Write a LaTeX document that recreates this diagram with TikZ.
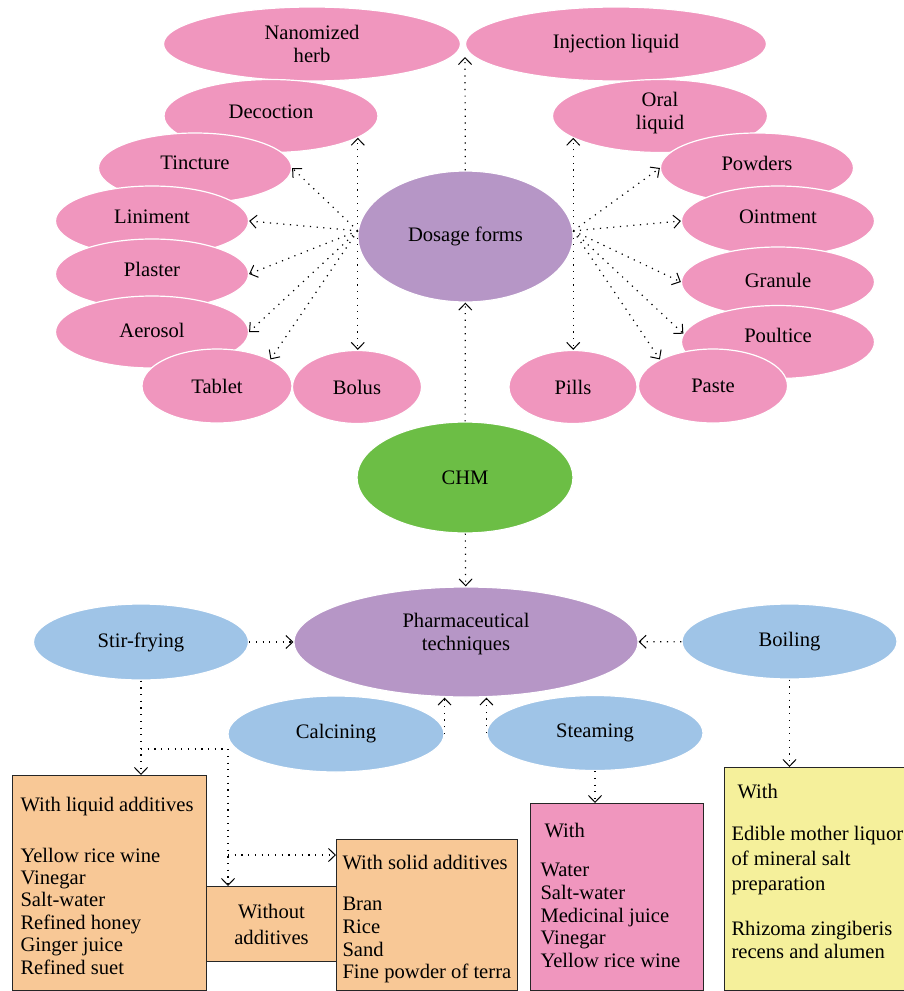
\documentclass[tikz,border=0pt]{standalone}
\usepackage{fontspec}
\setmainfont{Liberation Serif}
\usetikzlibrary{arrows.meta,shapes}
\definecolor{formpink}{RGB}{240,150,190}
\definecolor{hubpurple}{RGB}{182,150,198}
\definecolor{chmgreen}{RGB}{108,190,69}
\definecolor{techblue}{RGB}{159,196,231}
\definecolor{boxorange}{RGB}{248,200,150}
\definecolor{boxyellow}{RGB}{245,240,155}
\tikzset{
    >={Straight Barb[length=3.4pt,width=6.5pt,line width=0.5pt]},
    every node/.style={font=\fontsize{10.3}{11.4}\selectfont},
    oval/.style={ellipse, draw=white, line width=0.6pt, inner sep=0pt, align=center},
    form/.style={oval, fill=formpink},
    hub/.style={oval, fill=hubpurple},
    root/.style={oval, fill=chmgreen},
    technique/.style={oval, fill=techblue},
    listbox/.style={rectangle, draw=black!85, line width=0.5pt, inner ysep=0pt, anchor=north west},
    link/.style={->, line width=0.6pt, dash pattern=on 0.6pt off 2.75pt},
}

\begin{document}
\begin{tikzpicture}[x=0.5pt,y=-0.5pt]
\useasboundingbox (0,0) rectangle (904,991);

\node[form, minimum width=148.5pt, minimum height=37pt] (nano) at (312,44) {Nanomized\\herb};
\node[form, minimum width=150.5pt, minimum height=37pt] (inj) at (616,44) {Injection liquid};
\node[form, minimum width=107pt, minimum height=36.5pt, text depth=4pt] (decoction) at (271,116) {Decoction};
\node[form, minimum width=107.5pt, minimum height=36.5pt, text depth=5.5pt] (oral) at (660,116) {Oral\\liquid};
\node[form, minimum width=96.5pt, minimum height=35pt, text depth=5pt] (tincture) at (195,168) {Tincture};
\node[form, minimum width=96.5pt, minimum height=35pt, text depth=5pt] (powders) at (757,168) {Powders};
\node[form, minimum width=96.5pt, minimum height=35pt, text depth=4pt] (liniment) at (152,221) {Liniment};
\node[form, minimum width=96.5pt, minimum height=35pt, text depth=4pt] (ointment) at (778,221) {Ointment};
\node[form, minimum width=96.5pt, minimum height=35pt, text depth=5pt] (plaster) at (152,274) {Plaster};
\node[form, minimum width=96.5pt, minimum height=35pt, text depth=2pt] (granule) at (778,282) {Granule};
\node[form, minimum width=96.5pt, minimum height=36pt, text depth=2pt] (aerosol) at (152,332) {Aerosol};
\node[form, minimum width=96.5pt, minimum height=36.5pt, text depth=7pt] (poultice) at (778,342) {Poultice};
\node[form, minimum width=75pt, minimum height=37pt] (tablet) at (217,386) {Tablet};
\node[form, minimum width=64.5pt, minimum height=36.5pt] (bolus) at (357,387) {Bolus};
\node[form, minimum width=64pt, minimum height=36.5pt] (pills) at (573,387) {Pills};
\node[form, minimum width=74.5pt, minimum height=37pt] (paste) at (713,386) {Paste};

\node[hub, minimum width=107.5pt, minimum height=65.5pt] (dosage) at (465.5,236.5) {Dosage forms};
\node[root, minimum width=108pt, minimum height=55.5pt] (chm) at (465,477.5) {CHM};
\node[hub, minimum width=172pt, minimum height=55pt, text depth=10pt] (pharm) at (466,642) {Pharmaceutical\\techniques};

\node[technique, minimum width=107.5pt, minimum height=38pt] (stir) at (141,642) {Stir-frying};
\node[technique, minimum width=107.5pt, minimum height=37.5pt] (boil) at (789.5,641.5) {Boiling};
\node[technique, minimum width=108pt, minimum height=38pt] (calc) at (336,734) {Calcining};
\node[technique, minimum width=108pt, minimum height=37.5pt] (steam) at (595,733) {Steaming};

\node[listbox, fill=boxorange, inner xsep=4pt] (liquid) at (12,775) {\parbox[t][107.5pt][t]{89pt}{\fontsize{10.3}{11.2}\selectfont\rule{0pt}{18pt}With liquid additives\\[14.1pt]Yellow rice wine\\Vinegar\\Salt-water\\Refined honey\\Ginger juice\\Refined suet}};
\node[listbox, fill=boxorange, minimum width=65pt, minimum height=37.5pt, align=center] (without) at (206,886) {Without\\[1.6pt]additives};
\node[listbox, fill=boxorange, inner xsep=3pt] (solid) at (336,839) {\parbox[t][75.5pt][t]{84.5pt}{\rule{0pt}{15pt}With solid additives\\[9.1pt]Bran\\Rice\\Sand\\\mbox{Fine powder of terra}}};
\node[listbox, fill=formpink, inner xsep=5pt] (steambox) at (530,803) {\parbox[t][93.5pt][t]{76.5pt}{\rule{0pt}{17pt}\hspace{2pt}With\\[8.1pt]Water\\Salt-water\\Medicinal juice\\Vinegar\\Yellow rice wine}};
\node[listbox, fill=boxyellow, inner xsep=3.5pt] (boilbox) at (724,767) {\parbox[t][111.5pt][t]{131pt}{\rule{0pt}{15.5pt}\hspace{3pt}With\\[9.6pt]Edible mother liquor\\[1.2pt]of mineral salt\\[1.2pt]preparation\\[11.1pt]Rhizoma zingiberis\\recens and alumen}};

\coordinate (apex) at (465,57);
\coordinate (dl) at (dosage.177);
\coordinate (dr) at (dosage.3);
\coordinate (split) at (141,749);
\coordinate (bend) at (228,749);
\coordinate (fork) at (228,855);

\draw[link] (chm) -- (dosage);
\draw[link] (dosage) -- (apex);
\draw[link] (dl) -- (dl |- decoction.-14);
\draw[link] (dl) -- (dl |- bolus.north);
\draw[link] (dl) -- (tincture.east);
\draw[link] (dl) -- (liniment.east);
\draw[link] (dl) -- (plaster.east);
\draw[link] (dl) -- (aerosol.east);
\draw[link] (dl) -- (tablet.north east);
\draw[link] (dr) -- (dr |- oral.194);
\draw[link] (dr) -- (dr |- pills.north);
\draw[link] (dr) -- (powders.west);
\draw[link] (dr) -- (ointment.west);
\draw[link] (dr) -- (granule.west);
\draw[link] (dr) -- (poultice.175);
\draw[link] (dr) -- (paste.north west);

\draw[link] (chm) -- (pharm);
\draw[link] (stir) -- (pharm);
\draw[link] (boil) -- (pharm);
\draw[link] (calc.east) -- (calc.east |- pharm.south);
\draw[link] (steam.west) -- (steam.west |- pharm.south);
\draw[link] (stir.south) -- (stir.south |- liquid.north);
\draw[link] (split) -- (bend) -- (bend |- without.north);
\draw[link] (fork) -- (fork -| solid.west);
\draw[link] (steam.south) -- (steam.south |- steambox.north);
\draw[link] (boil.south) -- (boil.south |- boilbox.north);
\end{tikzpicture}
\end{document}
